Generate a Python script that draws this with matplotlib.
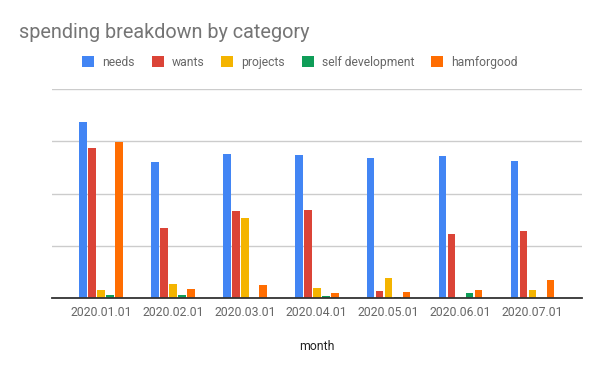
import matplotlib
matplotlib.use("Agg")
import matplotlib.pyplot as plt
from matplotlib.patches import Patch
import numpy as np

plt.rcParams['font.family'] = ['Roboto', 'DejaVu Sans']

months = ["2020.01.01", "2020.02.01", "2020.03.01", "2020.04.01",
          "2020.05.01", "2020.06.01", "2020.07.01"]
series_names = ["needs", "wants", "projects", "self development", "hamforgood"]
needs = [1685, 1305, 1380, 1370, 1340, 1360, 1315]
wants = [1435, 670, 835, 845, 70, 615, 645]
projects = [80, 135, 770, 100, 195, 0, 80]
self_development = [30, 30, 0, 20, 10, 50, 0]
hamforgood = [1495, 90, 125, 50, 60, 80, 175]
colors = ["#4285F4", "#DB4437", "#F4B400", "#0F9D58", "#FF6D01"]

series = [needs, wants, projects, self_development, hamforgood]

W, H = 600, 371
fig = plt.figure(figsize=(6, 3.71), dpi=100)
ax = fig.add_axes([52.3 / W, 1 - 298 / H, (582 - 52.3) / W, (298 - 89.3) / H])

x = np.arange(len(months))
step = 0.125
width = 0.107
for i, (vals, c) in enumerate(zip(series, colors)):
    ax.bar(x + (i - 2) * step, vals, width=width, color=c, zorder=3, linewidth=0)

ax.set_xlim(-0.677, 6.69)
ax.set_ylim(0, 2000)
ax.set_yticks([0, 500, 1000, 1500, 2000])
ax.set_yticklabels([])
ax.tick_params(axis='y', length=0)
ax.grid(axis='y', color='#cccccc', linewidth=1, zorder=0)
ax.set_xticks(x)
ax.set_xticklabels(months, fontsize=8.8, color='#666666')
ax.tick_params(axis='x', length=0, pad=6)
for s in ['top', 'right', 'left']:
    ax.spines[s].set_visible(False)
ax.spines['bottom'].set_color('#333333')
ax.spines['bottom'].set_linewidth(1.3)
ax.spines['bottom'].set_zorder(4)

fig.text(317 / W, 1 - 347 / H, "month", ha='center', va='center',
         fontsize=8.8, color='#222222')
fig.text(19.3 / W, 1 - 37.5 / H, "spending breakdown by category", ha='left',
         va='baseline', fontsize=14.3, color='#757575')

handles = [Patch(facecolor=c, edgecolor='none') for c in colors]
fig.legend(handles, series_names, loc='center', bbox_to_anchor=(300 / W, 1 - 62.5 / H),
           ncol=5, frameon=False, fontsize=8.7, handlelength=1.0, handleheight=1.0,
           handletextpad=0.67, columnspacing=1.38, borderpad=0, labelcolor='#666666')

fig.savefig("out.png", dpi=100)
